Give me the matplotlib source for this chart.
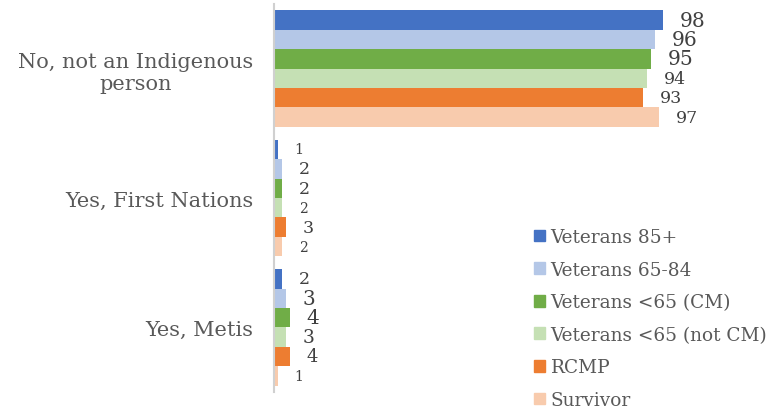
import matplotlib.pyplot as plt
from matplotlib.patches import Patch

categories = ["No, not an Indigenous\nperson", "Yes, First Nations", "Yes, Metis"]
series = ["Veterans 85+", "Veterans 65-84", "Veterans <65 (CM)",
          "Veterans <65 (not CM)", "RCMP", "Survivor"]
values = [
    [98, 1, 2],
    [96, 2, 3],
    [95, 2, 4],
    [94, 2, 3],
    [93, 3, 4],
    [97, 2, 1],
]
colors = ["#4472C4", "#B4C7E7", "#70AD47", "#C5E0B4", "#ED7D31", "#F8CBAD"]
# the data labels in the original come in mixed sizes
label_sizes = [
    [14.5, 10.5, 12.5],
    [14.5, 12.5, 14.5],
    [14.5, 12.5, 14.5],
    [12.5, 10, 13.5],
    [12.5, 12.5, 13],
    [12.5, 10, 10],
]

plt.rcParams['font.family'] = ['DejaVu Serif']

fig = plt.figure(figsize=(7.8, 4.14), dpi=100)
ax = fig.add_axes([274 / 780, 1 - 393 / 414, 397 / 780, 388 / 414])

h = 0.15
for i, name in enumerate(series):
    pos = [c + (i - 2.5) * h for c in range(len(categories))]
    bars = ax.barh(pos, values[i], height=h, color=colors[i], label=name)
    texts = ax.bar_label(bars, padding=12, color="#404040")
    for t, fs in zip(texts, label_sizes[i]):
        t.set_fontsize(fs)

ax.set_xlim(0, 100)
ax.set_ylim(-0.5, 2.5)
ax.invert_yaxis()
ax.set_yticks(range(len(categories)))
ax.set_yticklabels(categories, fontsize=15, color="#595959", ha="right",
                   multialignment="center")
ax.tick_params(axis="y", length=0, pad=15)
ax.set_xticks([])
for s in ["top", "right", "bottom"]:
    ax.spines[s].set_visible(False)
ax.spines["left"].set_color("#D0D0D0")
ax.spines["left"].set_linewidth(1.5)

handles = [Patch(color=c) for c in colors]
fig.legend(handles, series, loc="upper left", bbox_to_anchor=(534 / 780, 1 - 229 / 414),
           frameon=False, fontsize=13.3, labelcolor="#595959",
           handlelength=0.6, handleheight=0.6, handletextpad=0.3, labelspacing=0.79,
           borderaxespad=0, borderpad=0)

fig.savefig("out.png", dpi=100)
